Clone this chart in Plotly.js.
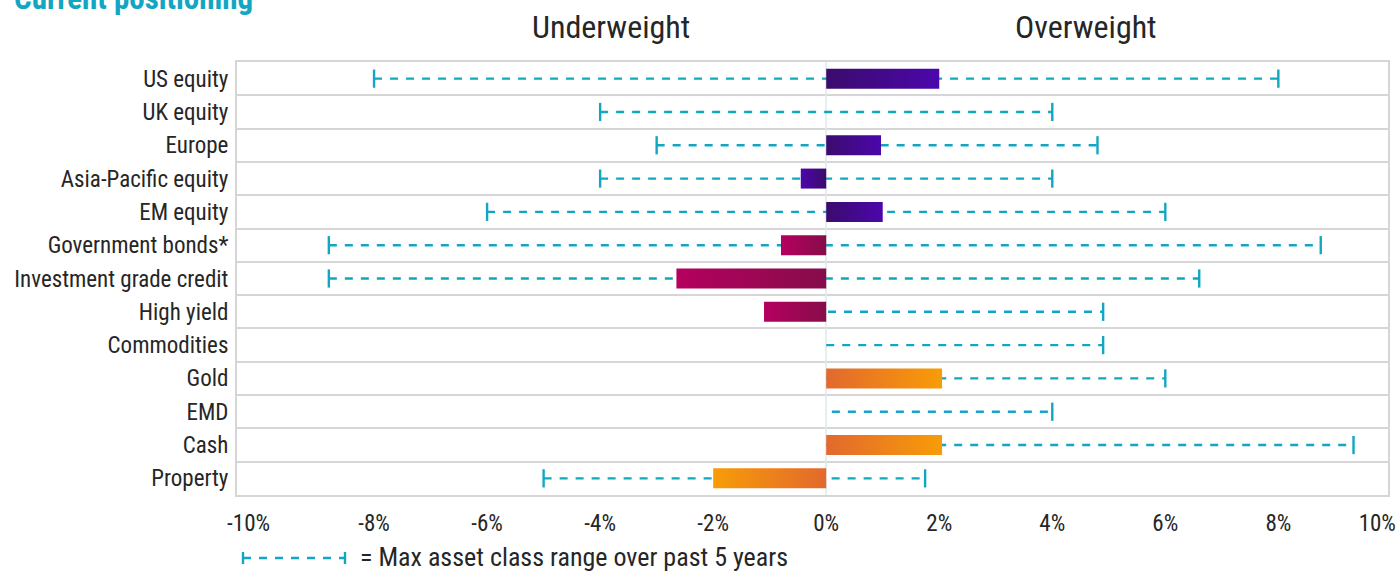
<!DOCTYPE html>
<html>
<head>
<meta charset="utf-8">
<script src="https://cdn.plot.ly/plotly-3.0.1.min.js"></script>
<style>
  html, body { margin: 0; padding: 0; background: #ffffff; }
  #chart { width: 1400px; height: 571px; }
</style>
</head>
<body>
<div id="chart"></div>
<script>
// ---- Data ----
const categories = ['US equity', 'UK equity', 'Europe', 'Asia-Pacific equity', 'EM equity',
  'Government bonds*', 'Investment grade credit', 'High yield', 'Commodities', 'Gold', 'EMD', 'Cash', 'Property'];
const positioning = [2.0, 0, 0.97, -0.45, 1.0, -0.8, -2.65, -1.1, 0, 2.05, 0, 2.05, -2.0];
const rangeMin = [-8.0, -4.0, -3.0, -4.0, -6.0, -8.8, -8.8, -1.1, 0, 0, 0.1, 0, -5.0];
const rangeMax = [8.0, 4.0, 4.8, 4.0, 6.0, 8.75, 6.6, 4.9, 4.9, 6.0, 4.0, 9.33, 1.75];
const assetGroup = ['Equity', 'Equity', 'Equity', 'Equity', 'Equity',
  'Bonds', 'Bonds', 'Bonds', 'Real', 'Real', 'Real', 'Real', 'Real'];
const xTickValues = [-10, -8, -6, -4, -2, 0, 2, 4, 6, 8, 10];
const xTickLabels = ['-10%', '-8%', '-6%', '-4%', '-2%', '0%', '2%', '4%', '6%', '8%', '10%'];
const sideLabels = ['Underweight', 'Overweight'];
const chartTitle = 'Current positioning';
const legendText = '= Max asset class range over past 5 years';

// ---- Styles ----
const groupColors = {
  Equity: { inner: '#3a0c6c', outer: '#4c06ac' },
  Bonds:  { inner: '#860d4a', outer: '#b5005f' },
  Real:   { inner: '#e2692e', outer: '#f89c07' }
};
const teal = '#12a6c3';
const FONT = '"Roboto Condensed", "Liberation Sans Narrow", "Arial Narrow", Roboto, sans-serif';

const W = 1400, H = 571;
const M = { l: 237, r: 12, t: 62, b: 76 };
const plotW = W - M.l - M.r, plotH = H - M.t - M.b;
const XR = [-10.425, 9.94];
const px2paperX = px => (px - M.l) / plotW;
const px2paperY = py => 1 - (py - M.t) / plotH;

// ---- Whiskers ----
const wx = [], wy = [];
categories.forEach((c, i) => { wx.push(rangeMin[i], rangeMax[i], null); wy.push(c, c, null); });
const capX = [], capY = [];
categories.forEach((c, i) => {
  if (rangeMin[i] < Math.min(0, positioning[i])) { capX.push(rangeMin[i]); capY.push(c); }
  if (rangeMax[i] > Math.max(0, positioning[i])) { capX.push(rangeMax[i]); capY.push(c); }
});

const traces = [
  { type: 'scatter', mode: 'lines', x: wx, y: wy, xaxis: 'x', yaxis: 'y',
    line: { color: teal, width: 2.4, dash: '8px,8px' }, hoverinfo: 'skip', showlegend: false },
  { type: 'scatter', mode: 'markers', x: capX, y: capY, xaxis: 'x', yaxis: 'y',
    marker: { symbol: 'line-ns-open', size: 13, color: teal, line: { color: teal, width: 2.4 } },
    hoverinfo: 'skip', showlegend: false },
  { type: 'bar', orientation: 'h', x: positioning, y: categories, xaxis: 'x2', yaxis: 'y',
    width: 0.6, marker: { color: assetGroup.map(g => groupColors[g].outer), line: { width: 0 } },
    hoverinfo: 'x+y', showlegend: false }
];

// legend sample geometry (paper coords)
const lgY = px2paperY(558);
const lgX0 = px2paperX(243), lgX1 = px2paperX(345);
const capH = 6 / plotH;

const layout = {
  width: W, height: H,
  margin: M,
  paper_bgcolor: '#ffffff', plot_bgcolor: '#ffffff',
  font: { family: FONT, color: '#262626', size: 23 },
  showlegend: false,
  xaxis: {
    range: XR, fixedrange: true,
    tickvals: xTickValues.map(v => v === -10 ? -10.22 : (v === 10 ? 9.75 : v)),
    ticktext: xTickLabels,
    tickfont: { size: 23, color: '#262626', family: FONT },
    ticks: '', ticklabelstandoff: 6,
    showgrid: false,
    zeroline: true, zerolinecolor: 'rgba(220,232,236,0.75)', zerolinewidth: 2,
    showline: true, mirror: true, linecolor: '#d6d6d6', linewidth: 2,
    layer: 'above traces'
  },
  xaxis2: { range: XR, overlaying: 'x', visible: false, fixedrange: true },
  yaxis: {
    type: 'category', categoryorder: 'array', categoryarray: categories,
    range: [categories.length - 0.5, -0.5], fixedrange: true,
    tickson: 'boundaries', ticks: '',
    showgrid: true, gridcolor: '#d6d6d6', gridwidth: 2,
    showline: true, mirror: true, linecolor: '#d6d6d6', linewidth: 2,
    tickfont: { size: 23, color: '#262626', family: FONT },
    ticklabelstandoff: 2
  },
  annotations: [
    { text: chartTitle, xref: 'paper', yref: 'paper', x: px2paperX(12), y: px2paperY(-2), xanchor: 'left', yanchor: 'middle',
      showarrow: false, font: { family: FONT, size: 31, color: '#12a6c3', weight: 'bold' } },
    { text: sideLabels[0], xref: 'paper', yref: 'paper', x: px2paperX(611), y: px2paperY(27), xanchor: 'center', yanchor: 'middle',
      showarrow: false, font: { family: FONT, size: 32, color: '#262626' } },
    { text: sideLabels[1], xref: 'paper', yref: 'paper', x: px2paperX(1086), y: px2paperY(27), xanchor: 'center', yanchor: 'middle',
      showarrow: false, font: { family: FONT, size: 32, color: '#262626' } },
    { text: legendText, xref: 'paper', yref: 'paper', x: px2paperX(358), y: px2paperY(557), xanchor: 'left', yanchor: 'middle',
      showarrow: false, font: { family: FONT, size: 26, color: '#262626' } }
  ],
  shapes: [
    { type: 'line', xref: 'paper', yref: 'paper', x0: lgX0, x1: lgX1, y0: lgY, y1: lgY,
      line: { color: teal, width: 2.4, dash: '8px,8px' } },
    { type: 'line', xref: 'paper', yref: 'paper', x0: lgX0, x1: lgX0, y0: lgY - capH, y1: lgY + capH,
      line: { color: teal, width: 2.4 } },
    { type: 'line', xref: 'paper', yref: 'paper', x0: lgX1, x1: lgX1, y0: lgY - capH, y1: lgY + capH,
      line: { color: teal, width: 2.4 } }
  ]
};

function applyGradients(gd) {
  const svg = gd.querySelector('svg.main-svg');
  if (!svg) return;
  let defs = svg.querySelector('defs');
  const NS = 'http://www.w3.org/2000/svg';
  if (!defs) { defs = document.createElementNS(NS, 'defs'); svg.insertBefore(defs, svg.firstChild); }
  const paths = gd.querySelectorAll('.barlayer .trace .point path');
  paths.forEach((p, i) => {
    const g = groupColors[assetGroup[i]];
    const id = 'bargrad' + i;
    const lg = document.createElementNS(NS, 'linearGradient');
    lg.setAttribute('id', id);
    const neg = positioning[i] < 0;
    lg.setAttribute('x1', neg ? '1' : '0'); lg.setAttribute('x2', neg ? '0' : '1');
    lg.setAttribute('y1', '0'); lg.setAttribute('y2', '0');
    [['0%', g.inner], ['100%', g.outer]].forEach(([o, c]) => {
      const s = document.createElementNS(NS, 'stop');
      s.setAttribute('offset', o); s.setAttribute('stop-color', c);
      lg.appendChild(s);
    });
    defs.appendChild(lg);
    p.style.fill = 'url(#' + id + ')';
  });
}

Plotly.newPlot('chart', traces, layout, { displayModeBar: false, staticPlot: true })
  .then(applyGradients);
</script>
</body>
</html>
